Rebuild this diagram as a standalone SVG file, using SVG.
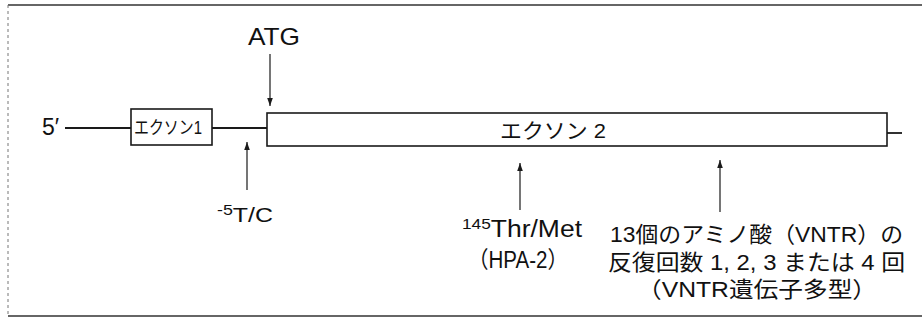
<svg xmlns="http://www.w3.org/2000/svg" width="922" height="322" viewBox="0 0 922 322">
<style>
  .ln{stroke:#1a1a1a;stroke-width:1.8;fill:none}
  .box{stroke:#1a1a1a;stroke-width:1.6;fill:#fff}
  .arr{stroke:#1a1a1a;stroke-width:1.2;fill:none;marker-end:url(#ah)}
  .t{font-family:"Liberation Sans","Noto Sans CJK JP",sans-serif;fill:#111}
  .frame{stroke:#333;stroke-width:1.4;fill:none}
</style>
<defs>
  <marker id="ah" markerUnits="userSpaceOnUse" markerWidth="8" markerHeight="12" refX="10" refY="3.5" orient="auto" viewBox="0 0 10 7">
    <path d="M0,0 L10,3.5 L0,7 Z" fill="#1a1a1a"/>
  </marker>
</defs>
<rect width="922" height="322" fill="#fff"/>
<g id="frame">
  <line class="frame" x1="8" y1="5" x2="922" y2="5"/>
  <line class="frame" x1="8" y1="316" x2="922" y2="316"/>
  <line x1="8" y1="5" x2="8" y2="316" stroke="#777" stroke-width="1" stroke-dasharray="3,3"/>
</g>
<g id="connectors">
  <line class="ln" x1="65" y1="128" x2="131" y2="128"/>
  <line class="ln" x1="212" y1="128" x2="267" y2="128"/>
  <line class="ln" x1="887" y1="133" x2="902" y2="133"/>
  <line class="arr" x1="270" y1="54" x2="270" y2="106"/>
  <line class="arr" x1="247" y1="190" x2="247" y2="142"/>
  <line class="arr" x1="520" y1="210" x2="520" y2="163"/>
  <line class="arr" x1="720" y1="212" x2="720" y2="160"/>
</g>
<g id="five-prime">
  <text class="t" x="42" y="135" font-size="23">5′</text>
</g>
<g id="exon1">
  <rect class="box" x="131" y="109" width="81" height="36"/>
  <text class="t" x="134" y="134" font-size="18" textLength="68" lengthAdjust="spacingAndGlyphs">エクソン1</text>
</g>
<g id="exon2">
  <rect class="box" x="267" y="113" width="620" height="33"/>
  <text class="t" x="500" y="138" font-size="21" textLength="106" lengthAdjust="spacingAndGlyphs">エクソン 2</text>
</g>
<g id="atg">
  <text class="t" x="248" y="45" font-size="24" textLength="52" lengthAdjust="spacingAndGlyphs">ATG</text>
</g>
<g id="snp-5">
  <text class="t" x="217" y="222" font-size="21" textLength="56" lengthAdjust="spacingAndGlyphs"><tspan font-size="15" dy="-7">-5</tspan><tspan dy="7">T/C</tspan></text>
</g>
<g id="thr-met">
  <text class="t" x="462" y="237" font-size="23" textLength="120" lengthAdjust="spacingAndGlyphs"><tspan font-size="15" dy="-8">145</tspan><tspan dy="8">Thr/Met</tspan></text>
  <text class="t" x="468" y="268" font-size="23" textLength="100" lengthAdjust="spacingAndGlyphs">（HPA-2）</text>
</g>
<g id="vntr">
  <text class="t" x="610" y="242" font-size="22" textLength="293" lengthAdjust="spacingAndGlyphs">13個のアミノ酸（VNTR）の</text>
  <text class="t" x="608" y="270" font-size="22" textLength="297" lengthAdjust="spacingAndGlyphs">反復回数 1, 2, 3 または 4 回</text>
  <text class="t" x="637" y="297" font-size="22" textLength="240" lengthAdjust="spacingAndGlyphs">（VNTR遺伝子多型）</text>
</g>
</svg>
